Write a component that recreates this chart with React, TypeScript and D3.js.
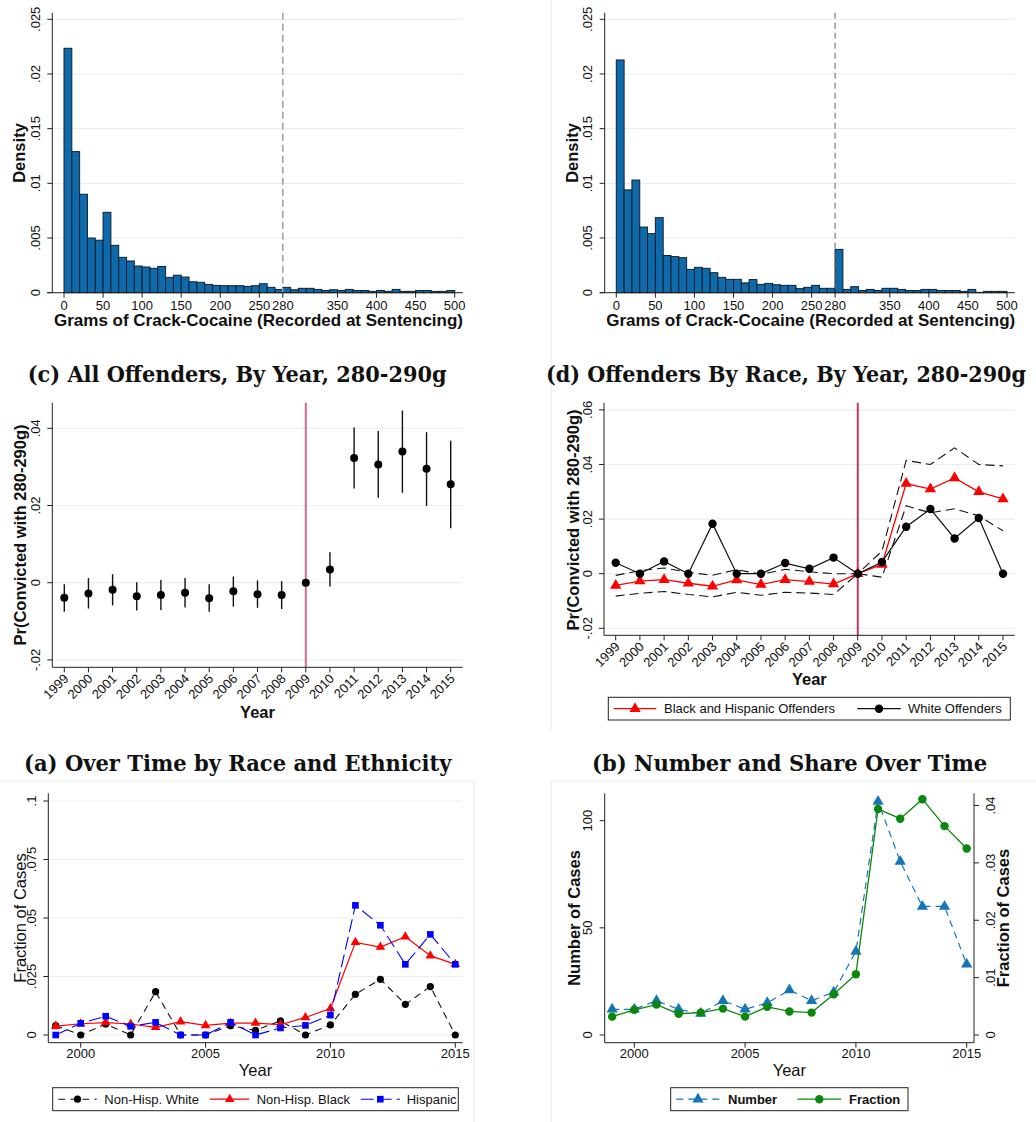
import React, { useLayoutEffect, useRef, useState } from "react";
import * as d3 from "d3";

// ---------- data ----------
const binWidth = 10; // grams per histogram bin, 0..500

const densityAllOffenders = [
  0.02235, 0.0129, 0.009, 0.005, 0.0048, 0.00735, 0.00433, 0.00323, 0.0029, 0.00244,
  0.00235, 0.00223, 0.0024, 0.0014, 0.0016, 0.00143, 0.001, 0.00095, 0.00076, 0.00067,
  0.00064, 0.00064, 0.00064, 0.00058, 0.00064, 0.00082, 0.00049, 0.0003, 0.00049, 0.00027,
  0.0004, 0.0004, 0.0003, 0.0002, 0.00027, 0.0002, 0.0003, 0.0002, 0.0002, 0.00012,
  0.0002, 0.00012, 0.0003, 0.00012, 0.00012, 0.0002, 0.0002, 0.00012, 0.00012, 0.0002,
];

const densityLaterSample = [
  0.02128, 0.0094, 0.0103, 0.006, 0.0054, 0.00686, 0.0034, 0.0033, 0.0032, 0.00213,
  0.00232, 0.00223, 0.00183, 0.0014, 0.00122, 0.00122, 0.0009, 0.0012, 0.00076, 0.00085,
  0.00073, 0.00067, 0.00067, 0.00037, 0.00049, 0.00067, 0.0004, 0.0004, 0.00396, 0.0003,
  0.00055, 0.0002, 0.0003, 0.0002, 0.0004, 0.0004, 0.0003, 0.0002, 0.0002, 0.0003,
  0.0003, 0.0002, 0.0002, 0.0002, 0.00012, 0.0003, 0.00003, 0.00012, 0.00012, 0.00012,
];

const gramTicks = [0, 50, 100, 150, 200, 250, 280, 350, 400, 450, 500];
const densityTicks = [0, 0.005, 0.01, 0.015, 0.02, 0.025];
const thresholdGrams = 280;

const years = [1999, 2000, 2001, 2002, 2003, 2004, 2005, 2006, 2007, 2008, 2009, 2010, 2011, 2012, 2013, 2014, 2015];
const fivedYearTicks = [2000, 2005, 2010, 2015];
const reformYear = 2009;

// (c) all offenders: coefficient and 95% CI
const coefAll = [-0.0039, -0.0028, -0.0018, -0.0035, -0.0032, -0.0026, -0.004, -0.0022, -0.003, -0.0032, 0, 0.0034, 0.0323, 0.0306, 0.034, 0.0295, 0.0255];
const ciHighAll = [-0.0004, 0.0012, 0.0022, 0.0001, 0.0007, 0.0012, -0.0004, 0.0016, 0.0006, 0.0004, null, 0.0079, 0.0402, 0.0393, 0.0446, 0.039, 0.0368];
const ciLowAll = [-0.0075, -0.0067, -0.0059, -0.0072, -0.0071, -0.0064, -0.0075, -0.0062, -0.0065, -0.0068, null, -0.001, 0.0244, 0.022, 0.0233, 0.0199, 0.0141];
const coefTicksC = [-0.02, 0, 0.02, 0.04];

// (d) by race
const coefMinority = [-0.0043, -0.0027, -0.0022, -0.0035, -0.0046, -0.0023, -0.004, -0.0022, -0.0029, -0.0038, 0, 0.0034, 0.033, 0.031, 0.0351, 0.03, 0.0274];
const ciHighMinority = [-0.0006, 0.0011, 0.0021, 0.0005, -0.0006, 0.0015, -0.0002, 0.0016, 0.0007, 0, 0, 0.0083, 0.0415, 0.04, 0.0461, 0.04, 0.0395];
const ciLowMinority = [-0.0082, -0.0072, -0.0065, -0.0076, -0.0085, -0.0068, -0.0079, -0.0068, -0.0071, -0.0076, 0, -0.0013, 0.0249, 0.0223, 0.0238, 0.0212, 0.0157];
const coefWhite = [0.004, 0, 0.0045, 0, 0.0183, 0, 0, 0.0039, 0.0018, 0.0059, 0, 0.0043, 0.0172, 0.0237, 0.0129, 0.0204, 0];
const coefTicksD = [-0.02, 0, 0.02, 0.04, 0.06];

// (a) fraction of cases by race and ethnicity
const fracWhite = [0.004, 0, 0.0047, 0, 0.0185, 0, 0, 0.004, 0.002, 0.006, 0, 0.0043, 0.0174, 0.0238, 0.0131, 0.0207, 0];
const fracBlack = [0.0038, 0.0048, 0.0053, 0.0047, 0.0033, 0.0057, 0.0041, 0.0051, 0.0051, 0.0044, 0.0075, 0.0113, 0.0396, 0.0376, 0.042, 0.0339, 0.0302];
const fracHispanic = [0, 0.005, 0.008, 0.0037, 0.0054, 0, 0, 0.0054, 0, 0.003, 0.0041, 0.0085, 0.0554, 0.0469, 0.0302, 0.043, 0.0302];
const fracTicks = [0, 0.025, 0.05, 0.075, 0.1];

// (b) number and share
const caseCount = [12, 12, 16, 12, 10, 16, 12, 15, 21, 16, 20, 39, 109, 81, 60, 60, 33];
const caseShare = [0.0032, 0.0044, 0.0053, 0.0037, 0.0039, 0.0046, 0.0032, 0.0049, 0.0041, 0.0039, 0.0071, 0.0106, 0.0394, 0.0377, 0.0411, 0.0364, 0.0325];
const countTicks = [0, 50, 100];
const shareTicks = [0, 0.01, 0.02, 0.03, 0.04];

// ---------- styling ----------
const SANS = "'Liberation Sans', Arial, Helvetica, sans-serif";
const SERIF = "'DejaVu Serif', 'Liberation Serif', serif";
const GRID = "#e8f0f1";
const AXIS = "#222";
const FRAME = "#e6edef";
const TICK_FS = 13;
const TITLE_FS = 16.5;
const BAR_FILL = "#0e6aab";
const RED = "#ff0000";
const BLUE = "#0000ff";
const NUM_BLUE = "#1675b8";
const GREEN = "#0b880b";

const stataNum = (v: number) => {
  if (v === 0) return "0";
  return String(+v.toFixed(4)).replace(/^0\./, ".").replace(/^-0\./, "-.");
};

const triPath = (size: number) => d3.symbol(d3.symbolTriangle, size)() as string;
const sqPath = (size: number) => d3.symbol(d3.symbolSquare, size)() as string;

// Serif panel heading, squeezed horizontally so it spans exactly `width` pixels.
function PanelTitle({ x, y, width, text }: { x: number; y: number; width: number; text: string }) {
  const ref = useRef<SVGTextElement>(null);
  const [sx, setSx] = useState(0.88);
  useLayoutEffect(() => {
    if (ref.current) {
      const natural = ref.current.getComputedTextLength();
      if (natural > 0) setSx(width / natural);
    }
  }, [width, text]);
  return (
    <text ref={ref} transform={`translate(${x},${y}) scale(${sx},1)`} fontFamily={SERIF} fontWeight="bold" fontSize={22.5} fill="#111">
      {text}
    </text>
  );
}

function YTicksRotated({ axisX, ticks, scale, grid, gridRight, side = "left" }: any) {
  return (
    <g>
      {grid &&
        ticks.map((t: number) => (
          <line key={"g" + t} x1={axisX} x2={gridRight} y1={scale(t)} y2={scale(t)} stroke={GRID} strokeWidth={1.2} />
        ))}
      {ticks.map((t: number) => (
        <g key={t}>
          <line x1={side === "left" ? axisX - 5 : axisX} x2={side === "left" ? axisX : axisX + 5} y1={scale(t)} y2={scale(t)} stroke={AXIS} />
          <text
            transform={`translate(${side === "left" ? axisX - 12.5 : axisX + 20.5},${scale(t)}) rotate(-90)`}
            textAnchor="middle"
            fontFamily={SANS}
            fontSize={TICK_FS}
            fill="#111"
          >
            {stataNum(t)}
          </text>
        </g>
      ))}
    </g>
  );
}

function RotatedTitle({ x, y, text, bold = true }: { x: number; y: number; text: string; bold?: boolean }) {
  return (
    <text transform={`translate(${x},${y}) rotate(-90)`} textAnchor="middle" fontFamily={SANS} fontWeight={bold ? "bold" : "normal"} fontSize={TITLE_FS} fill="#111">
      {text}
    </text>
  );
}

// ---------- histograms ----------
function DensityHistogram({ values, xLeft, axisX, plotRight, refColor, refDash, refWidth }: any) {
  const x = d3.scaleLinear().domain([0, 500]).range([xLeft, xLeft + 390.7]);
  const y = d3.scaleLinear().domain([0, 0.025]).range([292.7, 19.3]);
  const top = 12.7;
  return (
    <g>
      <YTicksRotated axisX={axisX} ticks={densityTicks} scale={y} grid gridRight={plotRight} />
      {values.map((v: number, i: number) => (
        <rect
          key={i}
          x={x(i * binWidth)}
          y={y(v)}
          width={x((i + 1) * binWidth) - x(i * binWidth)}
          height={y(0) - y(v)}
          fill={BAR_FILL}
          stroke="#10202e"
          strokeWidth={1}
        />
      ))}
      <line x1={x(thresholdGrams)} x2={x(thresholdGrams)} y1={top} y2={y(0)} stroke={refColor} strokeDasharray={refDash} strokeWidth={refWidth} />
      <line x1={axisX} x2={axisX} y1={top} y2={y(0)} stroke={AXIS} />
      <line x1={axisX - 5} x2={plotRight} y1={y(0)} y2={y(0)} stroke={AXIS} />
      {gramTicks.map((t) => (
        <g key={t}>
          <line x1={x(t)} x2={x(t)} y1={y(0)} y2={y(0) + 5} stroke={AXIS} />
          <text x={x(t)} y={y(0) + 17} textAnchor="middle" fontFamily={SANS} fontSize={TICK_FS} fill="#111">
            {t}
          </text>
        </g>
      ))}
      <text x={(axisX + plotRight) / 2 + 1} y={326} textAnchor="middle" fontFamily={SANS} fontWeight="bold" fontSize={17} fill="#111">
        Grams of Crack-Cocaine (Recorded at Sentencing)
      </text>
      <RotatedTitle x={axisX - 27} y={153} text="Density" />
    </g>
  );
}

// ---------- (c) ----------
function PanelC() {
  const axisX = 52.3;
  const right = 462.7;
  const top = 402.7;
  const bottom = 667.3;
  const x = d3.scaleLinear().domain([1999, 2015]).range([64.3, 450.7]);
  const y = d3.scaleLinear().domain([-0.02, 0.04]).range([659.9, 428.3]);
  return (
    <g>
      <PanelTitle x={27.7} y={382} width={419} text="(c) All Offenders, By Year, 280-290g" />
      <YTicksRotated axisX={axisX} ticks={coefTicksC} scale={y} grid gridRight={right} />
      <line x1={x(reformYear)} x2={x(reformYear)} y1={top} y2={bottom} stroke="#d8678a" strokeWidth={2} />
      {years.map((yr, i) =>
        ciHighAll[i] == null ? null : (
          <line key={"ci" + yr} x1={x(yr)} x2={x(yr)} y1={y(ciHighAll[i] as number)} y2={y(ciLowAll[i] as number)} stroke="#111" strokeWidth={1.4} />
        )
      )}
      {years.map((yr, i) => (
        <circle key={"p" + yr} cx={x(yr)} cy={y(coefAll[i])} r={4} fill="#000" />
      ))}
      <line x1={axisX} x2={axisX} y1={top} y2={bottom} stroke={AXIS} />
      <line x1={axisX} x2={right} y1={bottom} y2={bottom} stroke={AXIS} />
      {years.map((yr) => (
        <g key={yr}>
          <line x1={x(yr)} x2={x(yr)} y1={bottom} y2={bottom + 5} stroke={AXIS} />
          <text transform={`translate(${x(yr) + 5},${bottom + 12}) rotate(-45)`} textAnchor="end" fontFamily={SANS} fontSize={TICK_FS} fill="#111">
            {yr}
          </text>
        </g>
      ))}
      <text x={(axisX + right) / 2} y={717.5} textAnchor="middle" fontFamily={SANS} fontWeight="bold" fontSize={TITLE_FS} fill="#111">
        Year
      </text>
      <RotatedTitle x={25.5} y={535} text="Pr(Convicted with 280-290g)" />
    </g>
  );
}

// ---------- (d) ----------
function PanelD() {
  const axisX = 604;
  const right = 1014.7;
  const top = 402.7;
  const bottom = 635.3;
  const x = d3.scaleLinear().domain([1999, 2015]).range([615.7, 1003]);
  const y = d3.scaleLinear().domain([-0.02, 0.06]).range([628.3, 409.9]);
  const line = d3.line<number>().x((_, i) => x(years[i])).y((v) => y(v));
  const legY = 708.7;
  return (
    <g>
      <PanelTitle x={546} y={382} width={480} text="(d) Offenders By Race, By Year, 280-290g" />
      <YTicksRotated axisX={axisX} ticks={coefTicksD} scale={y} grid gridRight={right} />
      <line x1={x(reformYear)} x2={x(reformYear)} y1={top} y2={bottom} stroke="#c8385c" strokeWidth={2} />
      <path d={line(ciHighMinority) as string} fill="none" stroke="#111" strokeWidth={1.1} strokeDasharray="9,5" />
      <path d={line(ciLowMinority) as string} fill="none" stroke="#111" strokeWidth={1.1} strokeDasharray="9,5" />
      <path d={line(coefMinority) as string} fill="none" stroke={RED} strokeWidth={1.3} />
      {years.map((yr, i) => (
        <path key={"t" + yr} d={triPath(55)} transform={`translate(${x(yr)},${y(coefMinority[i])})`} fill={RED} />
      ))}
      <path d={line(coefWhite) as string} fill="none" stroke="#111" strokeWidth={1.2} />
      {years.map((yr, i) => (
        <circle key={"c" + yr} cx={x(yr)} cy={y(coefWhite[i])} r={4.2} fill="#000" />
      ))}
      <line x1={axisX} x2={axisX} y1={top} y2={bottom} stroke={AXIS} />
      <line x1={axisX} x2={right} y1={bottom} y2={bottom} stroke={AXIS} />
      {years.map((yr) => (
        <g key={yr}>
          <line x1={x(yr)} x2={x(yr)} y1={bottom} y2={bottom + 5} stroke={AXIS} />
          <text transform={`translate(${x(yr) + 5},${bottom + 12}) rotate(-45)`} textAnchor="end" fontFamily={SANS} fontSize={TICK_FS} fill="#111">
            {yr}
          </text>
        </g>
      ))}
      <text x={(axisX + right) / 2} y={685} textAnchor="middle" fontFamily={SANS} fontWeight="bold" fontSize={TITLE_FS} fill="#111">
        Year
      </text>
      <RotatedTitle x={578.5} y={520} text="Pr(Convicted with 280-290g)" />
      {/* legend */}
      <rect x={608.3} y={697.3} width={402} height={22.7} fill="#fff" stroke="#222" strokeWidth={1} />
      <line x1={613.7} x2={656.3} y1={legY} y2={legY} stroke={RED} strokeWidth={1.3} />
      <path d={triPath(55)} transform={`translate(635,${legY})`} fill={RED} />
      <text x={664} y={legY + 4.5} fontFamily={SANS} fontSize={13} fill="#111">Black and Hispanic Offenders</text>
      <line x1={857.3} x2={900.7} y1={legY} y2={legY} stroke="#111" strokeWidth={1.2} />
      <circle cx={879} cy={legY} r={4.2} fill="#000" />
      <text x={908} y={legY + 4.5} fontFamily={SANS} fontSize={13} fill="#111">White Offenders</text>
    </g>
  );
}

// ---------- (a) ----------
function PanelA() {
  const axisX = 48.3;
  const right = 462.7;
  const top = 793.3;
  const bottom = 1042.7;
  const x = d3.scaleLinear().domain([2000, 2015]).range([80.7, 455.3]);
  const y = d3.scaleLinear().domain([0, 0.1]).range([1035, 801]);
  const line = d3.line<number>().x((_, i) => x(years[i])).y((v) => y(v));
  const legY = 1099.2;
  return (
    <g>
      <path d="M0,781 H474 V1122" fill="none" stroke={FRAME} strokeWidth={1.2} />
      <PanelTitle x={24} y={771} width={427.7} text="(a) Over Time by Race and Ethnicity" />
      <YTicksRotated axisX={axisX} ticks={fracTicks} scale={y} grid gridRight={right} />
      <path d={line(fracWhite) as string} fill="none" stroke="#111" strokeWidth={1.1} strokeDasharray="7,5" />
      {years.map((yr, i) => (
        <circle key={"w" + yr} cx={x(yr)} cy={y(fracWhite[i])} r={3.6} fill="#000" />
      ))}
      <path d={line(fracBlack) as string} fill="none" stroke={RED} strokeWidth={1.2} />
      {years.map((yr, i) => (
        <path key={"b" + yr} d={triPath(40)} transform={`translate(${x(yr)},${y(fracBlack[i])})`} fill={RED} />
      ))}
      <path d={line(fracHispanic) as string} fill="none" stroke={BLUE} strokeWidth={1.1} strokeDasharray="13,5" />
      {years.map((yr, i) => (
        <path key={"h" + yr} d={sqPath(44)} transform={`translate(${x(yr)},${y(fracHispanic[i])})`} fill={BLUE} />
      ))}
      <line x1={axisX} x2={axisX} y1={top} y2={bottom} stroke={AXIS} />
      <line x1={axisX} x2={right} y1={bottom} y2={bottom} stroke={AXIS} />
      {fivedYearTicks.map((yr) => (
        <g key={yr}>
          <line x1={x(yr)} x2={x(yr)} y1={bottom} y2={bottom + 5} stroke={AXIS} />
          <text x={x(yr)} y={1058.3} textAnchor="middle" fontFamily={SANS} fontSize={TICK_FS} fill="#111">
            {yr}
          </text>
        </g>
      ))}
      <text x={(axisX + right) / 2} y={1075.5} textAnchor="middle" fontFamily={SANS} fontSize={TITLE_FS} fill="#111">
        Year
      </text>
      <RotatedTitle x={25.5} y={918} text="Fraction of Cases" bold={false} />
      {/* legend */}
      <rect x={52.7} y={1087.7} width={405.6} height={23} fill="#fff" stroke="#222" strokeWidth={1} />
      <line x1={58.3} x2={96.7} y1={legY} y2={legY} stroke="#111" strokeWidth={1.1} strokeDasharray="7,5" />
      <circle cx={77.5} cy={legY} r={3.6} fill="#000" />
      <text x={104.3} y={legY + 4.5} fontFamily={SANS} fontSize={13} fill="#111">Non-Hisp. White</text>
      <line x1={210} x2={249.3} y1={legY} y2={legY} stroke={RED} strokeWidth={1.2} />
      <path d={triPath(40)} transform={`translate(229.7,${legY})`} fill={RED} />
      <text x={256.7} y={legY + 4.5} fontFamily={SANS} fontSize={13} fill="#111">Non-Hisp. Black</text>
      <line x1={360.7} x2={400} y1={legY} y2={legY} stroke={BLUE} strokeWidth={1.1} strokeDasharray="13,5" />
      <path d={sqPath(44)} transform={`translate(380.3,${legY})`} fill={BLUE} />
      <text x={406.7} y={legY + 4.5} fontFamily={SANS} fontSize={13} fill="#111">Hispanic</text>
    </g>
  );
}

// ---------- (b) ----------
function PanelB() {
  const axisL = 604.7;
  const axisR = 974;
  const top = 793.3;
  const bottom = 1042.7;
  const x = d3.scaleLinear().domain([2000, 2015]).range([634.3, 966.7]);
  const yL = d3.scaleLinear().domain([0, 100]).range([1035, 820.7]);
  const yR = d3.scaleLinear().domain([0, 0.04]).range([1035, 805.5]);
  const lineL = d3.line<number>().x((_, i) => x(years[i])).y((v) => yL(v));
  const lineR = d3.line<number>().x((_, i) => x(years[i])).y((v) => yR(v));
  const legY = 1099.2;
  return (
    <g>
      <path d="M1036,781 H551 V1122" fill="none" stroke={FRAME} strokeWidth={1.2} />
      <PanelTitle x={592} y={771} width={395.3} text="(b) Number and Share Over Time" />
      <YTicksRotated axisX={axisL} ticks={countTicks} scale={yL} />
      <YTicksRotated axisX={axisR} ticks={shareTicks} scale={yR} side="right" />
      <path d={lineL(caseCount) as string} fill="none" stroke={NUM_BLUE} strokeWidth={1.2} strokeDasharray="7,5" />
      {years.map((yr, i) => (
        <path key={"n" + yr} d={triPath(55)} transform={`translate(${x(yr)},${yL(caseCount[i])})`} fill={NUM_BLUE} />
      ))}
      <path d={lineR(caseShare) as string} fill="none" stroke={GREEN} strokeWidth={1.3} />
      {years.map((yr, i) => (
        <circle key={"s" + yr} cx={x(yr)} cy={yR(caseShare[i])} r={4.2} fill={GREEN} />
      ))}
      <line x1={axisL} x2={axisL} y1={top} y2={bottom} stroke={AXIS} />
      <line x1={axisR} x2={axisR} y1={top} y2={bottom} stroke={AXIS} />
      <line x1={axisL} x2={axisR} y1={bottom} y2={bottom} stroke={AXIS} />
      {fivedYearTicks.map((yr) => (
        <g key={yr}>
          <line x1={x(yr)} x2={x(yr)} y1={bottom} y2={bottom + 5} stroke={AXIS} />
          <text x={x(yr)} y={1058.3} textAnchor="middle" fontFamily={SANS} fontSize={TICK_FS} fill="#111">
            {yr}
          </text>
        </g>
      ))}
      <text x={(axisL + axisR) / 2} y={1075.5} textAnchor="middle" fontFamily={SANS} fontSize={TITLE_FS} fill="#111">
        Year
      </text>
      <RotatedTitle x={579.5} y={918} text="Number of Cases" />
      <RotatedTitle x={1008.5} y={918} text="Fraction of Cases" />
      {/* legend */}
      <rect x={670.7} y={1087.7} width={237.3} height={23} fill="#fff" stroke="#222" strokeWidth={1} />
      <line x1={676.3} x2={719.7} y1={legY} y2={legY} stroke={NUM_BLUE} strokeWidth={1.2} strokeDasharray="7,5" />
      <path d={triPath(55)} transform={`translate(698,${legY})`} fill={NUM_BLUE} />
      <text x={728} y={legY + 4.5} fontFamily={SANS} fontWeight="bold" fontSize={13} fill="#111">Number</text>
      <line x1={797.3} x2={841.3} y1={legY} y2={legY} stroke={GREEN} strokeWidth={1.3} />
      <circle cx={819.3} cy={legY} r={4.2} fill={GREEN} />
      <text x={849} y={legY + 4.5} fontFamily={SANS} fontWeight="bold" fontSize={13} fill="#111">Fraction</text>
    </g>
  );
}

export default function App() {
  return (
    <svg width={1036} height={1122} style={{ position: "absolute", left: 0, top: 0, background: "#fff" }}>
      <rect x={0} y={0} width={1036} height={1122} fill="#fff" />
      <line x1={551} x2={551} y1={0} y2={730} stroke={FRAME} strokeWidth={1.2} />
      <DensityHistogram values={densityAllOffenders} xLeft={64} axisX={52.3} plotRight={462.7} refColor="#a3a3a3" refDash="7,4" refWidth={1.6} />
      <DensityHistogram values={densityLaterSample} xLeft={616.3} axisX={604.7} plotRight={1014.7} refColor="#6e6e6e" refDash="6,4" refWidth={1.1} />
      <PanelC />
      <PanelD />
      <PanelA />
      <PanelB />
    </svg>
  );
}
